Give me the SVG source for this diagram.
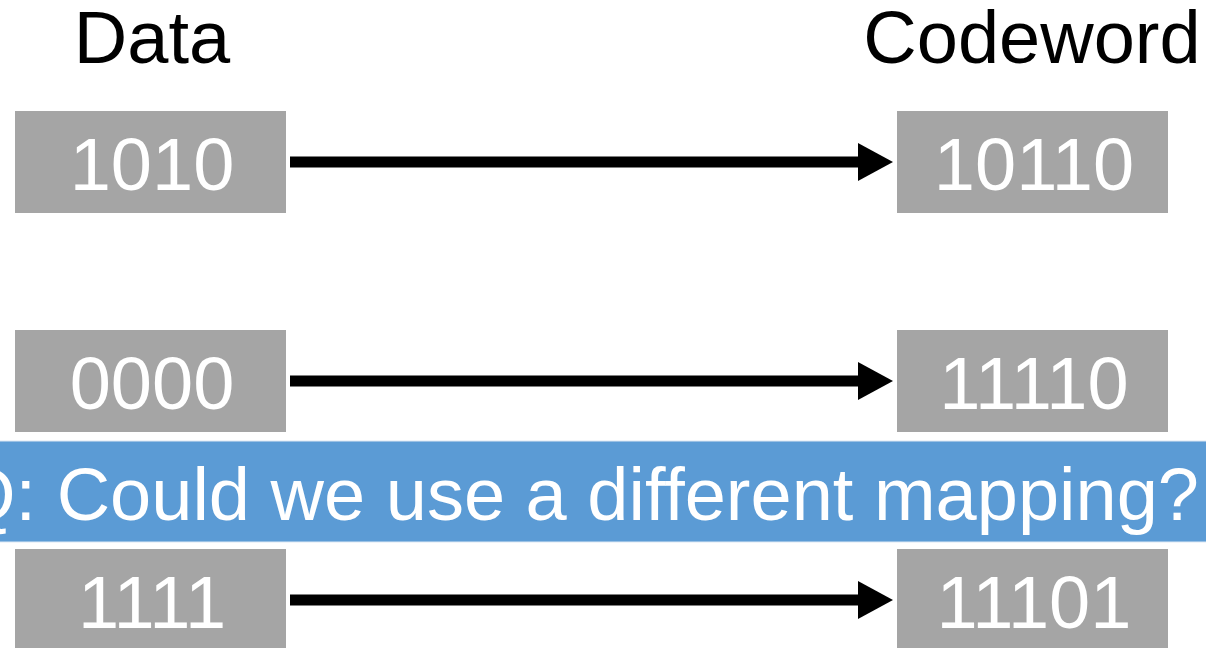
<svg xmlns="http://www.w3.org/2000/svg" width="1206" height="648" viewBox="0 0 1206 648">
  <style>
    .box { fill: #A5A5A5; }
    .val { font-family: "Liberation Sans", Arial, sans-serif; font-size: 74px; fill: #FFFFFF; text-anchor: middle; }
    .title { font-family: "Liberation Sans", Arial, sans-serif; font-size: 74px; fill: #000000; text-anchor: middle; }
    .link { stroke: #000000; stroke-width: 11; fill: none; marker-end: url(#head); }
    .banner { fill: #5B9BD5; }
    .question { font-family: "Liberation Sans", Arial, sans-serif; font-size: 74px; fill: #FFFFFF; }
  </style>
  <defs>
    <!-- arrowhead: base sits 12px behind the line end, tip 23px ahead -->
    <marker id="head" markerUnits="userSpaceOnUse" markerWidth="36" markerHeight="38" refX="12" refY="19" orient="auto">
      <path d="M0,0 L35,19 L0,38 Z" fill="#000000"/>
    </marker>
  </defs>
  <rect width="1206" height="648" fill="#FFFFFF"/>

  <g id="headers">
    <text class="title" x="152" y="63">Data</text>
    <text class="title" x="1032" y="63">Codeword</text>
  </g>

  <g id="connectors">
    <line class="link" x1="290" y1="162" x2="870" y2="162"/>
    <line class="link" x1="290" y1="381" x2="870" y2="381"/>
    <line class="link" x1="290" y1="600" x2="870" y2="600"/>
  </g>

  <g id="data-1010">
    <rect class="box" x="15" y="111" width="271" height="102"/>
    <text class="val" x="152" y="190">1010</text>
  </g>
  <g id="code-10110">
    <rect class="box" x="897" y="111" width="271" height="102"/>
    <text class="val" x="1034" y="190">10110</text>
  </g>
  <g id="data-0000">
    <rect class="box" x="15" y="330" width="271" height="102"/>
    <text class="val" x="152" y="409">0000</text>
  </g>
  <g id="code-11110">
    <rect class="box" x="897" y="330" width="271" height="102"/>
    <text class="val" x="1034" y="409">11110</text>
  </g>
  <g id="data-1111">
    <rect class="box" x="15" y="549" width="271" height="102"/>
    <text class="val" x="152" y="628">1111</text>
  </g>
  <g id="code-11101">
    <rect class="box" x="897" y="549" width="271" height="102"/>
    <text class="val" x="1034" y="628">11101</text>
  </g>

  <g id="question">
    <rect class="banner" x="-2" y="441" width="1210" height="101" stroke="#DDE8F4" stroke-width="1"/>
    <text class="question" x="-42" y="520">Q: Could we use a different mapping?</text>
  </g>
</svg>
